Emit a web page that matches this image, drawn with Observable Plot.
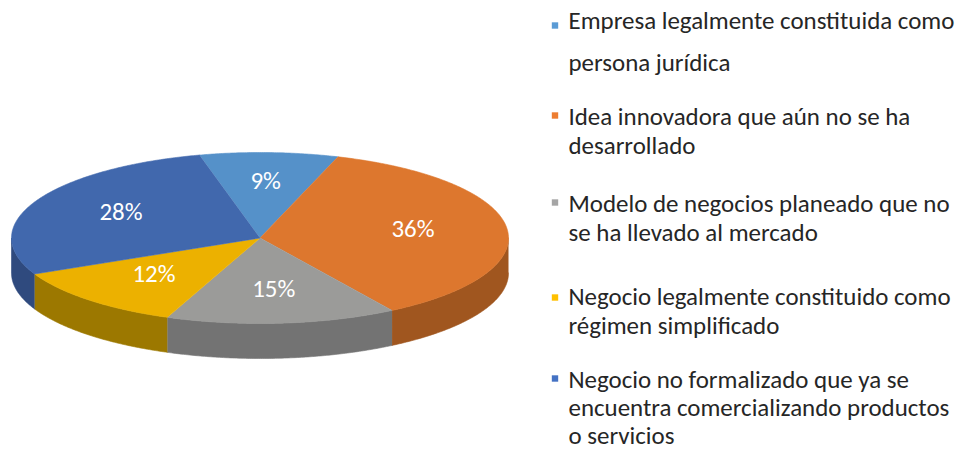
<!DOCTYPE html>
<html><head><meta charset="utf-8">
<script src="https://cdn.jsdelivr.net/npm/d3@7"></script>
<script src="https://cdn.jsdelivr.net/npm/@observablehq/plot@0.6"></script>
<style>body{margin:0;background:#fff} #chart{width:960px;height:449px}</style>
</head><body><div id="chart"></div>
<script>
// ---- data ----
const categories = [
  "Empresa legalmente constituida como persona jurídica",
  "Idea innovadora que aún no se ha desarrollado",
  "Modelo de negocios planeado que no se ha llevado al mercado",
  "Negocio legalmente constituido como régimen simplificado",
  "Negocio no formalizado que ya se encuentra comercializando productos o servicios"
];
const values = [9, 36, 15, 12, 28];
const labels = ["9%", "36%", "15%", "12%", "28%"];
const legendLines = [
  ["Empresa legalmente constituida como", "persona jurídica"],
  ["Idea innovadora que aún no se ha", "desarrollado"],
  ["Modelo de negocios planeado que no", "se ha llevado al mercado"],
  ["Negocio legalmente constituido como", "régimen simplificado"],
  ["Negocio no formalizado que ya se", "encuentra comercializando productos", "o servicios"]
];
const topColors = ["#5591c9", "#dd772e", "#9b9b99", "#ecb100", "#4168ad"];
const sideColors = ["#3b6a96", "#a0561f", "#737373", "#9c7800", "#2f4a7e"];
const markerColors = ["#5b9bd5", "#ed7d31", "#a5a5a5", "#ffc000", "#4472c4"];

// ---- layout ----
const W = 960, H = 449;
const cx = 259.5, cy = 237.5, rx = 248.5, ry = 85.5, depth = 35;
const startAngle = -14.1;
const FONT = "Carlito, Calibri, Lato, sans-serif";

// font size to mimic Calibri 24px widths
const ctx = document.createElement("canvas").getContext("2d");
ctx.font = `100px ${FONT}`;
const measured = ctx.measureText("Empresa legalmente constituida como").width;
const fontSize = Math.min(26, 386 / measured * 100);

const total = d3.sum(values);
const rad = d => d * Math.PI / 180;
const px = (t, r = 1) => cx + r * rx * Math.sin(rad(t));
const py = (t, r = 1) => cy - r * ry * Math.cos(rad(t));

let a = startAngle;
const slices = values.map((v, i) => {
  const a1 = a, a2 = a + v / total * 360;
  a = a2;
  return {i, a1, a2, mid: (a1 + a2) / 2};
});

function arc(t1, t2) {
  const n = Math.max(2, Math.ceil(Math.abs(t2 - t1) / 0.5));
  return d3.range(n + 1).map(k => t1 + (t2 - t1) * k / n);
}

const topPts = [];
slices.forEach(s => {
  topPts.push({id: "t" + s.i, x: cx, y: cy, color: topColors[s.i]});
  arc(s.a1, s.a2).forEach(t => topPts.push({id: "t" + s.i, x: px(t), y: py(t), color: topColors[s.i]}));
});

const sidePts = [];
slices.forEach(s => {
  const b1 = Math.max(s.a1, 90), b2 = Math.min(s.a2, 270);
  if (b2 <= b1) return;
  const ts = arc(b1, b2);
  ts.forEach(t => sidePts.push({id: "s" + s.i, x: px(t), y: py(t), color: sideColors[s.i]}));
  ts.slice().reverse().forEach(t => sidePts.push({id: "s" + s.i, x: px(t), y: py(t) + depth, color: sideColors[s.i]}));
});

const pieLabels = slices.map(s => ({x: px(s.mid, 0.62), y: py(s.mid, 0.63) - 3, text: labels[s.i]}));

// legend
const baselines = [[28, 70], [124, 153], [211, 240], [304, 333], [387, 415, 443]];
const markerY = [25, 115, 202, 297, 378];
const legendText = [];
legendLines.forEach((lines, i) => lines.forEach((t, j) => legendText.push({x: 568, y: baselines[i][j], text: t})));
const legendMarks = categories.map((c, i) => ({x: 554.5, y: markerY[i], color: markerColors[i]}));

const chart = Plot.plot({
  width: W, height: H,
  margin: 0,
  x: {domain: [0, W], range: [0, W], axis: null},
  y: {domain: [0, H], range: [0, H], axis: null},
  color: {type: "identity"},
  style: {fontFamily: FONT, background: "#fff"},
  marks: [
    Plot.line(sidePts, {x: "x", y: "y", z: "id", fill: "color", stroke: "color", strokeWidth: 0.6, curve: "linear"}),
    Plot.line(topPts, {x: "x", y: "y", z: "id", fill: "color", stroke: "color", strokeWidth: 0.6, curve: "linear"}),
    Plot.text(pieLabels, {x: "x", y: "y", text: "text", fill: "white", fontSize: fontSize, textAnchor: "middle", lineAnchor: "middle"}),
    Plot.dot(legendMarks, {x: "x", y: "y", symbol: "square", r: 3.6, fill: "color", stroke: null}),
    Plot.text(legendText, {x: "x", y: "y", text: "text", fill: "#262626", fontSize: fontSize, textAnchor: "start", lineAnchor: "bottom"})
  ]
});
document.getElementById("chart").appendChild(chart);
</script>
</body></html>
